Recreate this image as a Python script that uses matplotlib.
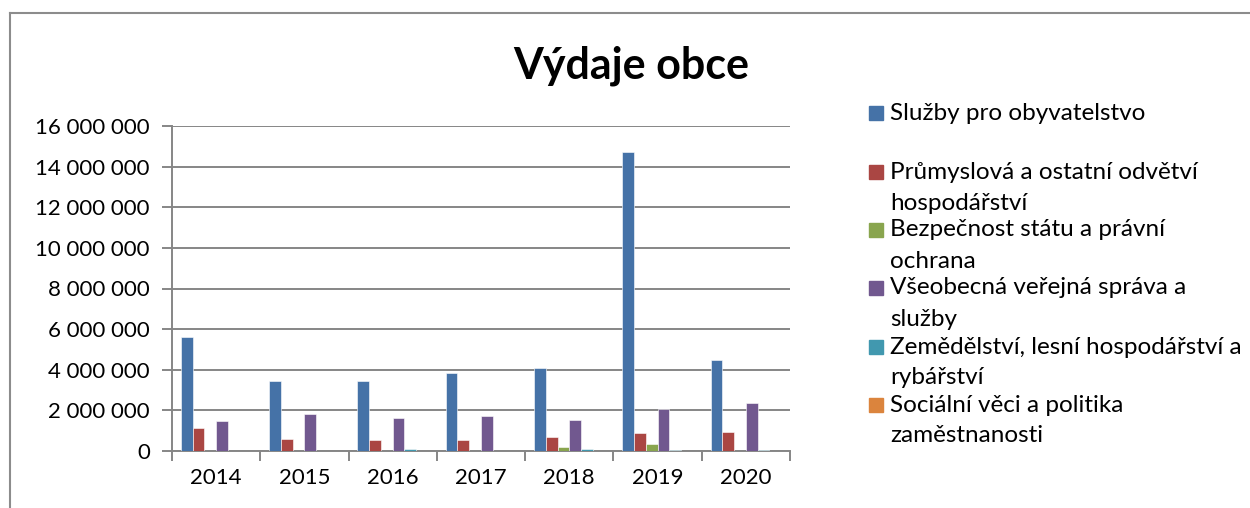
import numpy as np
import matplotlib.pyplot as plt
from matplotlib.patches import Rectangle
from matplotlib.lines import Line2D
from matplotlib.ticker import FuncFormatter

plt.rcParams['font.family'] = ['Lato', 'DejaVu Sans']

# data
years = ['2014', '2015', '2016', '2017', '2018', '2019', '2020']
sluzby = [5600000, 3450000, 3430000, 3840000, 4100000, 14720000, 4470000]
prumysl = [1150000, 590000, 530000, 540000, 690000, 890000, 940000]
bezpecnost = [0, 0, 0, 20000, 200000, 340000, 0]
sprava = [1480000, 1840000, 1620000, 1720000, 1530000, 2070000, 2350000]
zemedelstvi = [20000, 0, 100000, 0, 80000, 30000, 50000]
socialni = [0, 0, 0, 0, 0, 0, 0]

series = [sluzby, prumysl, bezpecnost, sprava, zemedelstvi, socialni]
labels = [
    ['Služby pro obyvatelstvo'],
    ['Průmyslová a ostatní odvětví', 'hospodářství'],
    ['Bezpečnost státu a právní', 'ochrana'],
    ['Všeobecná veřejná správa a', 'služby'],
    ['Zemědělství, lesní hospodářství a', 'rybářství'],
    ['Sociální věci a politika', 'zaměstnanosti'],
]
colors = ['#4572A7', '#AA4643', '#89A54E', '#71588F', '#4198AF', '#DB843D']

W, H = 1250, 508
fig = plt.figure(figsize=(12.5, 5.08), dpi=100)
ax = fig.add_axes([172 / W, 1 - 451 / H, (790 - 172) / W, (451 - 126) / H])

x = np.arange(len(years))
w = 1 / 7.5
for j, vals in enumerate(series):
    ax.bar(x + (j - 2.5) * w, vals, width=w, color=colors[j],
           edgecolor='white', linewidth=0.4, zorder=3)

grid_c = '#868686'
ax.set_xlim(-0.5, len(years) - 0.5)
ax.set_ylim(0, 16000000)
ax.set_yticks(np.arange(0, 16000001, 2000000))
ax.yaxis.set_major_formatter(FuncFormatter(lambda v, p: f'{int(v):,}'.replace(',', ' ')))
ax.grid(axis='y', color=grid_c, linewidth=1.4, zorder=0)
ax.tick_params(axis='y', length=7, width=1.4, color=grid_c, labelsize=16, pad=9)

ax.set_xticks(x)
ax.set_xticklabels(years)
ax.set_xticks(np.arange(-0.5, len(years), 1), minor=True)
ax.tick_params(axis='x', which='major', length=0, labelsize=16, pad=12)
ax.tick_params(axis='x', which='minor', length=7, width=1.4, color=grid_c)

for s in ['top', 'right']:
    ax.spines[s].set_visible(False)
for s in ['left', 'bottom']:
    ax.spines[s].set_color(grid_c)
    ax.spines[s].set_linewidth(1.4)

fig.text(631 / W, 1 - 66 / H, 'Výdaje obce', ha='center', va='center',
         fontsize=31, fontweight='bold')

# legend, Excel style
item_y = [113, 172, 230, 288, 347, 405]
for j, (lab, yy) in enumerate(zip(labels, item_y)):
    fig.patches.append(Rectangle((869 / W, 1 - (yy + 7) / H), 14 / W, 14 / H,
                                 transform=fig.transFigure, color=colors[j]))
    for k, line in enumerate(lab):
        fig.text(890 / W, 1 - (yy + 31 * k) / H, line, ha='left', va='center',
                 fontsize=17.5)

# outer frame
frame_c = '#8c8c8c'
fig.add_artist(Line2D([10 / W, 10 / W], [0, 1 - 13 / H], transform=fig.transFigure,
                      color=frame_c, linewidth=1.5))
fig.add_artist(Line2D([10 / W, 1], [1 - 13 / H, 1 - 13 / H], transform=fig.transFigure,
                      color=frame_c, linewidth=1.5))

fig.savefig('out.png', dpi=100)
